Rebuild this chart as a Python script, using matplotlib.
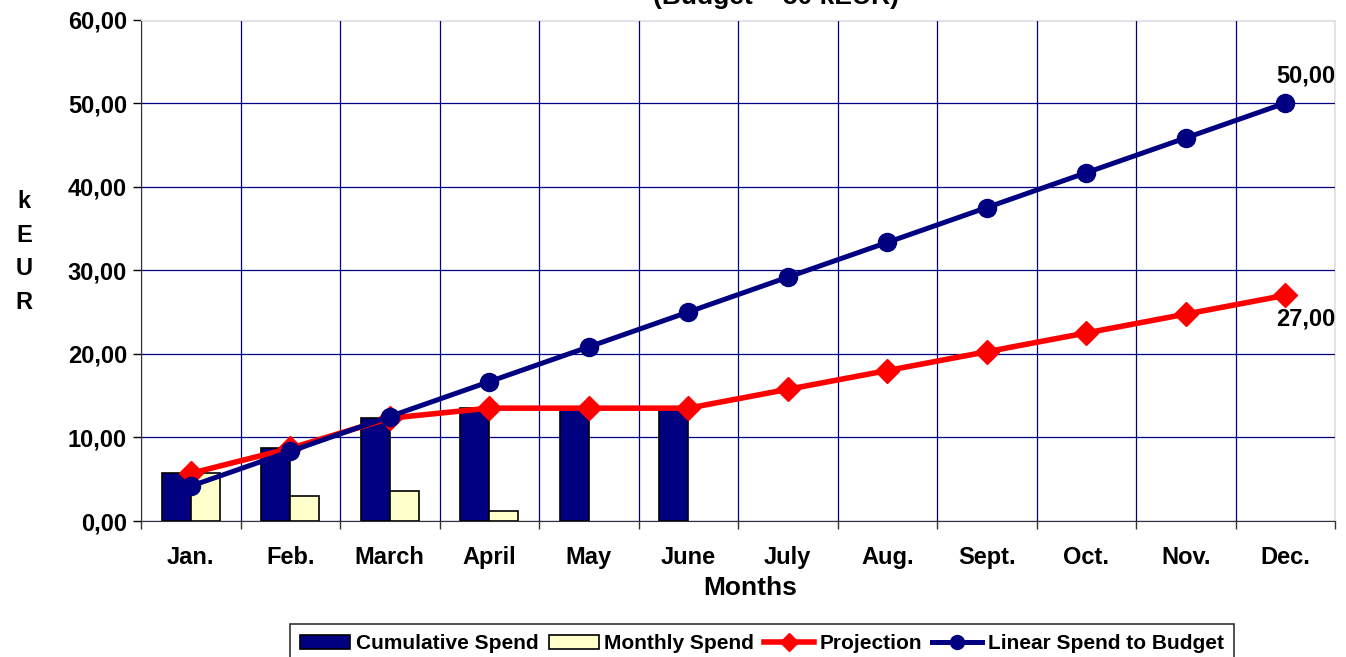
import matplotlib
matplotlib.use("Agg")
import matplotlib.pyplot as plt
from matplotlib.ticker import FixedLocator, FuncFormatter
from matplotlib.patches import Patch
from matplotlib.lines import Line2D

months = ["Jan.", "Feb.", "March", "April", "May", "June", "July", "Aug.", "Sept.", "Oct.", "Nov.", "Dec."]
cumulative = [5.7, 8.7, 12.3, 13.5, 13.5, 13.5]
monthly = [5.7, 3.0, 3.6, 1.2]
projection = [5.7, 8.7, 12.3, 13.5, 13.5, 13.5, 15.75, 18.0, 20.25, 22.5, 24.75, 27.0]
linear = [4.17, 8.33, 12.5, 16.67, 20.83, 25.0, 29.17, 33.33, 37.5, 41.67, 45.83, 50.0]

plt.rcParams['font.family'] = ['Liberation Sans', 'DejaVu Sans']
plt.rcParams['font.weight'] = 'bold'

W, H = 1346, 657
fig = plt.figure(figsize=(W/100, H/100), dpi=100)
ax = fig.add_axes([141/W, 1-521/H, (1335-141)/W, (521-19.5)/H])

navy = '#000080'
bw = 0.29
x_c = list(range(len(cumulative)))
x_m = list(range(len(monthly)))
ax.bar([i - bw/2 for i in x_c], cumulative, width=bw, color=navy, edgecolor='black', linewidth=1.2, zorder=3)
ax.bar([i + bw/2 for i in x_m], monthly, width=bw, color='#FFFFCC', edgecolor='black', linewidth=1.2, zorder=3)

xs = list(range(12))
ax.plot(xs, projection, color='#FF0000', lw=4, marker='D', ms=12, mec='#FF0000', zorder=4, clip_on=False)
ax.plot(xs, linear, color=navy, lw=3.6, marker='o', ms=13, mec=navy, zorder=5, clip_on=False)

ax.text(11.21, linear[-1] + 1.9, "50,00", ha='center', va='bottom', fontsize=17, fontweight='bold')
ax.text(11.21, projection[-1] - 1.4, "27,00", ha='center', va='top', fontsize=17, fontweight='bold')

ax.set_xlim(-0.5, 11.5)
ax.set_ylim(0, 60)
ax.set_yticks(range(0, 61, 10))
ax.yaxis.set_major_formatter(FuncFormatter(lambda v, p: f"{v:.2f}".replace('.', ',')))
ax.set_xticks(xs)
ax.set_xticklabels(months)
ax.xaxis.set_minor_locator(FixedLocator([i + 0.5 for i in range(-1, 12)]))
ax.tick_params(axis='x', which='major', length=0, pad=18, labelsize=17)
ax.tick_params(axis='x', which='minor', length=6, width=1, direction='out', color='#333333')
ax.tick_params(axis='y', which='major', length=6, width=1, direction='out', labelsize=17, pad=4)
for lab in ax.get_xticklabels() + ax.get_yticklabels():
    lab.set_fontweight('bold')

ax.grid(True, which='minor', axis='x', color=navy, lw=0.9, zorder=0)
ax.grid(True, which='major', axis='y', color=navy, lw=0.9, zorder=0)
ax.set_axisbelow(True)

ax.spines['left'].set_color('#333333')
ax.spines['bottom'].set_color('#333333')
ax.spines['top'].set_color('#e6e6e6')
ax.spines['right'].set_color('#e6e6e6')

ax.set_xlabel("Months", fontsize=19, fontweight='bold')
ax.xaxis.set_label_coords((750-141)/(1335-141), -(588-521)/(521-19.5))
ax.xaxis.label.set_va('center')
fig.text(24/W, 1-252/H, "k\nE\nU\nR", ha='center', va='center', fontsize=17, fontweight='bold', linespacing=1.6)

fig.text(776/W, 1-4/H, "(Budget = 50 kEUR)", ha='center', va='baseline', fontsize=19, fontweight='bold')

handles = [
    Patch(facecolor=navy, edgecolor='black', lw=1.2, label='Cumulative Spend'),
    Patch(facecolor='#FFFFCC', edgecolor='black', lw=1.2, label='Monthly Spend'),
    Line2D([], [], color='#FF0000', lw=4, marker='D', ms=9, label='Projection'),
    Line2D([], [], color=navy, lw=3.6, marker='o', ms=10, label='Linear Spend to Budget'),
]
leg = fig.legend(handles=handles, loc='upper center', bbox_to_anchor=(762/W, 1-624/H), ncol=4,
                 frameon=True, fancybox=False, edgecolor='black', fontsize=15,
                 handlelength=2.4, handletextpad=0.25, columnspacing=0.5, borderpad=0.5,
                 borderaxespad=0)
leg.get_frame().set_linewidth(1.2)
for t in leg.get_texts():
    t.set_fontweight('bold')

fig.savefig("out.png", dpi=100)
